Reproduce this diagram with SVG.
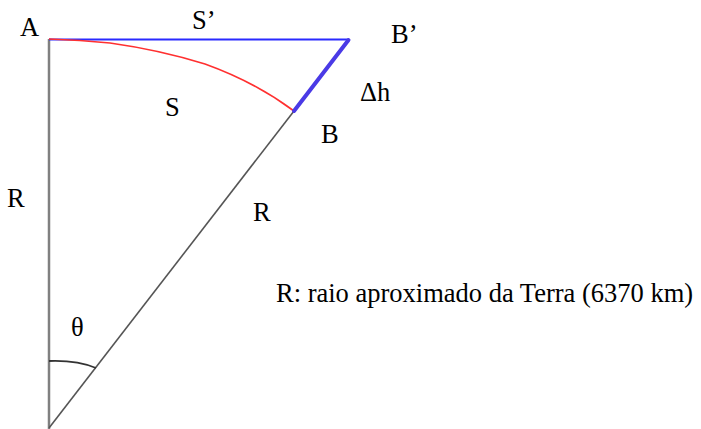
<svg xmlns="http://www.w3.org/2000/svg" width="701" height="429" viewBox="0 0 701 429">
<style>
text{font-family:'Liberation Serif','Times New Roman','DejaVu Serif',serif;font-size:26.5px;fill:#000}
.ln{fill:none;stroke-linecap:butt}
</style>
<rect width="701" height="429" fill="#fff"/>
<g id="connectors">
<line class="ln" x1="49" y1="39" x2="49" y2="429" stroke="#808080" stroke-width="2.5"/>
<line class="ln" x1="49" y1="428" x2="294" y2="111" stroke="#555" stroke-width="1.6"/>
<line class="ln" x1="49" y1="39.5" x2="349" y2="39.5" stroke="#2a2aff" stroke-width="2"/>
<path class="ln" d="M49,39 Q80,40 110,43 Q160,50 205,64 Q255,82 294,111" stroke="#ff3030" stroke-width="1.6"/>
<line x1="294" y1="111" x2="348.5" y2="40" stroke="#4a3ae6" stroke-width="4" stroke-linecap="round"/>
<path class="ln" d="M49,361 Q77,360 96,368" stroke="#333" stroke-width="1.8"/>
</g>
<g id="A"><text x="20" y="36">A</text></g>
<g id="Sprime"><text x="192" y="29">S’</text></g>
<g id="Bprime"><text x="391" y="43">B’</text></g>
<g id="dh"><text x="360" y="101">Δh</text></g>
<g id="S"><text x="165" y="116">S</text></g>
<g id="B"><text x="321" y="143">B</text></g>
<g id="R1"><text x="7" y="207">R</text></g>
<g id="R2"><text x="253" y="221">R</text></g>
<g id="theta"><text x="71" y="336">θ</text></g>
<g id="legend"><text x="276" y="302" font-size="27.1">R: raio aproximado da Terra (6370 km)</text></g>
</svg>
